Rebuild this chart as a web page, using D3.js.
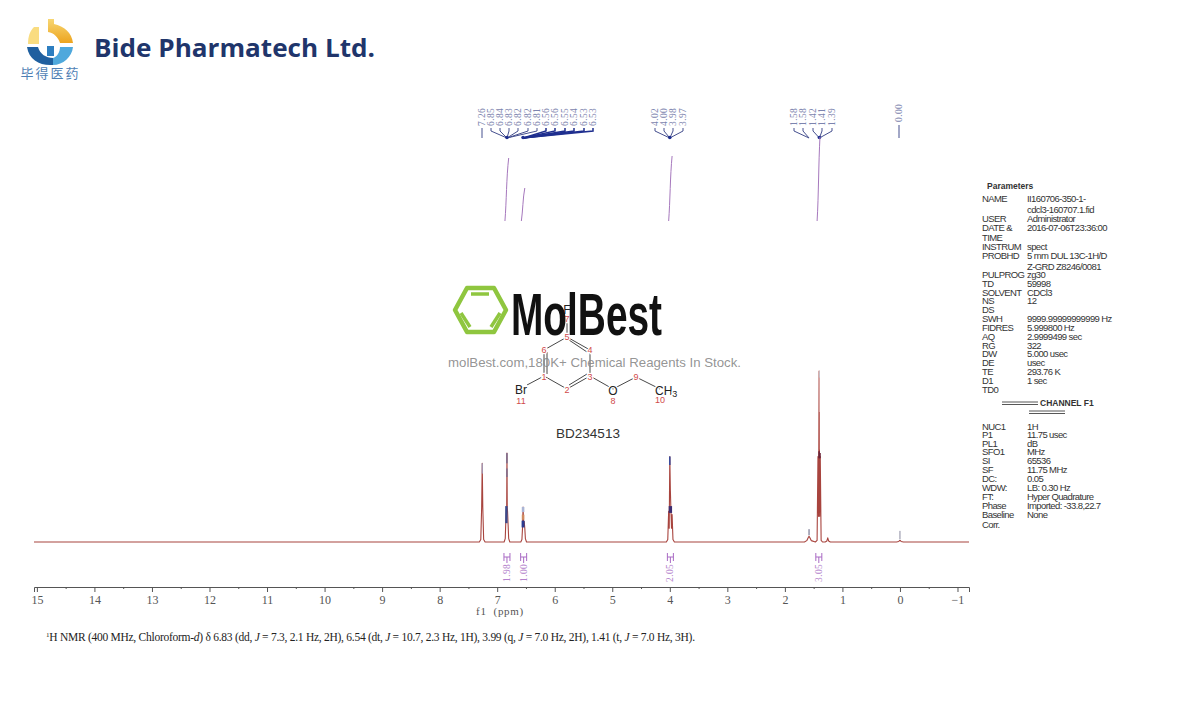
<!DOCTYPE html>
<html>
<head>
<meta charset="utf-8">
<title>BD234513 1H NMR</title>
<script src="https://cdn.jsdelivr.net/npm/d3@7/dist/d3.min.js"></script>
<style>
html, body { margin: 0; padding: 0; background: #fff; }
svg { display: block; }
</style>
</head>
<body>
<div id="chart"></div>
<script>
// trace (ppm, intensity with tallest peak = 100)
var tracePpm = [15.05, 7.31, 7.285, 7.27, 7.26, 7.25, 7.235, 7.21, 6.88, 6.86, 6.85, 6.84, 6.835, 6.83, 6.825, 6.82, 6.81, 6.80, 6.78,
  6.59, 6.57, 6.56, 6.55, 6.54, 6.53, 6.52, 6.51, 6.49, 4.06, 4.035, 4.02, 4.01, 4.00, 3.99, 3.98, 3.97, 3.96, 3.945, 3.92,
  1.66, 1.62, 1.595, 1.58, 1.565, 1.54, 1.47, 1.44, 1.425, 1.415, 1.405, 1.395, 1.385, 1.37, 1.345, 1.30, 1.27, 1.255, 1.24, 1.21,
  0.06, 0.02, 0.005, -0.005, -0.02, -0.06, -1.2];
var traceInt = [0, 0, 1.5, 20, 46, 20, 1.5, 0, 0, 2, 12, 19, 20, 52, 20, 18, 10, 2, 0,
  0, 1.5, 8, 20.5, 10, 12, 8, 2, 0, 0, 1.5, 18, 8, 50, 30, 18, 8, 16, 1.5, 0,
  0, 0.8, 2.5, 3.4, 2.5, 0.8, 0, 1, 50, 15, 100, 15, 50, 1, 0, 0, 0.6, 2.4, 0.6, 0,
  0, 0.3, 0.9, 0.9, 0.3, 0, 0];

// blue/pale marks laid over the peak tops
var markPpm = [7.26, 6.83, 6.83, 6.84, 6.55, 6.55, 6.55, 4.00, 3.99, 1.40, 1.40, 1.40, 1.405, 1.39, 1.58, 0.00];
var markFrom = [40, 46, 38, 11, 17.5, 8.5, 13, 45, 17, 76, 54, 96, 49, 49, 4, 1.5];
var markTo = [46, 52, 43, 21, 20.5, 12.5, 16, 50, 21, 96, 76, 100, 53, 52, 7.5, 6.5];
var markWidth = [1, 1, 1, 2.4, 2.6, 3, 2.6, 1.6, 3.4, 1, 1, 1, 1.6, 1.6, 1, 1];
var markColor = ["#9aa6cc", "#505a90", "#5a6598", "#3a4a8c", "#aab4d4", "#2b3c90", "#d08a60", "#3a4a9a", "#3d2d70", "#dba8a5", "#c06e6a", "#c9c6cf", "#6b2438", "#6b2438", "#5c5c7e", "#8a8aa0"];

// picked peak labels
var topLabels = ["7.26", "6.85", "6.84", "6.83", "6.82", "6.82", "6.81", "6.56", "6.56", "6.55", "6.54", "6.53", "6.53",
  "4.02", "4.00", "3.98", "3.97", "1.58", "1.58", "1.42", "1.41", "1.39", "0.00"];
var topLabelX = [482, 491, 500, 509, 518, 528, 537, 546, 555, 565, 574, 584, 593, 655, 664, 673, 683, 794, 803, 813, 822, 832, 899];
var topLabelTarget = [7.28, 6.83, 6.83, 6.83, 6.83, 6.83, 6.83, 6.55, 6.55, 6.55, 6.55, 6.55, 6.55, 4.00, 4.00, 4.00, 4.00, 1.58, 1.58, 1.40, 1.40, 1.40, 0.01];

// integrals
var integralPpm = [6.83, 6.54, 3.99, 1.41];
var integralText = ["1.98", "1.00", "2.05", "3.05"];
var integralCurveX = [[6.865, 6.80], [6.58, 6.52], [4.02, 3.96], [1.44, 1.39]];
var integralCurveTop = [158, 188, 156, 137];

// axis
var majorTicks = [15, 14, 13, 12, 11, 10, 9, 8, 7, 6, 5, 4, 3, 2, 1, 0, -1];
var minorTicks = [14.5, 13.5, 12.5, 11.5, 10.5, 9.5, 8.5, 7.5, 6.5, 5.5, 4.5, 3.5, 2.5, 1.5, 0.5, -0.5];

// parameter table
var paramNames = ["NAME", "", "USER", "DATE &", "TIME", "INSTRUM", "PROBHD", "", "PULPROG", "TD", "SOLVENT", "NS", "DS", "SWH", "FIDRES", "AQ", "RG", "DW", "DE", "TE", "D1", "TD0"];
var paramValues = ["II160706-350-1-", "cdcl3-160707.1.fid", "Administrator", "2016-07-06T23:36:00", "", "spect", "5 mm DUL 13C-1H/D", "Z-GRD Z8246/0081", "zg30", "59998", "CDCl3", "12", "", "9999.99999999999 Hz", "5.999800 Hz", "2.9999499 sec", "322", "5.000 usec", "usec", "293.76 K", "1 sec", ""];
var paramY = [199, 210, 219, 228, 238, 247, 256, 267, 275, 284, 293, 301, 310, 319, 328, 337, 346, 354, 363, 372, 381, 390];
var channelNames = ["NUC1", "P1", "PL1", "SFO1", "SI", "SF", "DC:", "WDW:", "FT:", "Phase", "Baseline", "Corr."];
var channelValues = ["1H", "11.75 usec", "dB", "MHz", "65536", "11.75 MHz", "0.05", "LB: 0.30 Hz", "Hyper Quadrature", "Imported: -33.8,22.7", "None", ""];
var channelY = [427, 435, 444, 452, 461, 470, 479, 488, 497, 506, 515, 525];

var width = 1190, height = 723;
var svg = d3.select("#chart").append("svg").attr("width", width).attr("height", height);

var x = d3.scaleLinear().domain([15.05, -1.2]).range([34, 969]);
var y = d3.scaleLinear().domain([0, 100]).range([542, 371]);

var serif = "'Liberation Serif', serif";
var sans = "'Liberation Sans', sans-serif";

// ---- company logo ----
var logo = svg.append("g");
var grad = svg.append("defs").append("linearGradient").attr("id", "sun")
  .attr("x1", 0).attr("y1", 0).attr("x2", 0).attr("y2", 1);
grad.append("stop").attr("offset", "0%").attr("stop-color", "#f7d774");
grad.append("stop").attr("offset", "100%").attr("stop-color", "#eda41e");
logo.append("path").attr("fill", "url(#sun)")
  .attr("d", "M48,19 L54,19 L54,24 C64,26 72,33 73,43 L60,43 C58,37 54,33 48,32 Z");
logo.append("path").attr("fill", "#f9dc80")
  .attr("d", "M34,27 L39,27 L39,44 L28,44 C28,36 30,31 34,27 Z");
logo.append("path").attr("fill", "#1f5f9f")
  .attr("d", "M27,47 L38,47 C40,54 46,58 53,58 L53,65 C40,66 29,60 27,47 Z");
logo.append("path").attr("fill", "#4fa8dc")
  .attr("d", "M60,47 L73,47 C72,57 63,65 53,65 L53,58 C57,57 60,52 60,47 Z");
logo.append("rect").attr("x", 47).attr("y", 46).attr("width", 7).attr("height", 10).attr("fill", "#2d7ec0");
logo.append("text").attr("x", 49.5).attr("y", 78).attr("text-anchor", "middle")
  .attr("font-family", "'Noto Sans CJK SC'").attr("font-size", 13).attr("fill", "#4f7fb5")
  .attr("textLength", 58).attr("lengthAdjust", "spacing").text("毕得医药");
svg.append("text").attr("x", 94).attr("y", 57)
  .attr("font-family", "'Open Sans', sans-serif").attr("font-weight", 700).attr("font-size", 25)
  .attr("fill", "#20356b").attr("textLength", 281).attr("lengthAdjust", "spacingAndGlyphs")
  .text("Bide Pharmatech Ltd.");

// ---- structure ----
var mol = svg.append("g");
var atomX = [544, 567, 590, 590, 567, 544, 567, 613, 636, 660, 527];
var atomY = [376, 389, 376, 350, 337, 350, 315, 389, 377, 389, 385];
var bonds = [[0,1],[1,2],[2,3],[3,4],[4,5],[5,0],[4,6],[2,7],[7,8],[8,9],[0,10]];
mol.selectAll("line.bond").data(bonds).enter().append("line").attr("class", "bond")
  .attr("x1", function(d) { return atomX[d[0]]; }).attr("y1", function(d) { return atomY[d[0]]; })
  .attr("x2", function(d) { return atomX[d[1]]; }).attr("y2", function(d) { return atomY[d[1]]; })
  .attr("stroke", "#333").attr("stroke-width", 0.9);
// inner lines of the double bonds
var doubles = [[569, 385, 587, 374], [569, 340, 587, 352], [547, 352, 547, 374]];
mol.selectAll("line.dbl").data(doubles).enter().append("line").attr("class", "dbl")
  .attr("x1", function(d) { return d[0]; }).attr("y1", function(d) { return d[1]; })
  .attr("x2", function(d) { return d[2]; }).attr("y2", function(d) { return d[3]; })
  .attr("stroke", "#333").attr("stroke-width", 0.9);
var atomNo = ["1", "2", "3", "4", "5", "6", "7", "8", "9", "10", "11"];
var atomNoX = [544, 567, 590, 590, 567, 544, 567, 613, 636, 660, 521];
var atomNoY = [380, 393, 380, 353, 340, 353, 322, 404, 380, 403, 404];
// halo so the numbers and element symbols break the bonds
function halo(sel) {
  return sel.attr("stroke", "#fff").attr("stroke-width", 2.5).attr("paint-order", "stroke");
}
halo(mol.selectAll("text.no").data(atomNo).enter().append("text").attr("class", "no")
  .attr("x", function(d, i) { return atomNoX[i]; }).attr("y", function(d, i) { return atomNoY[i]; })
  .attr("text-anchor", "middle").attr("font-family", sans).attr("font-size", 9).attr("fill", "#d04a4a")
  .text(function(d) { return d; }));
halo(mol.append("text").attr("x", 521).attr("y", 394).attr("text-anchor", "middle").attr("font-family", sans)
  .attr("font-size", 12).attr("fill", "#222").text("Br"));
halo(mol.append("text").attr("x", 613).attr("y", 395).attr("text-anchor", "middle").attr("font-family", sans)
  .attr("font-size", 12).attr("fill", "#222").text("O"));
var ch3 = halo(mol.append("text").attr("x", 655).attr("y", 395).attr("font-family", sans)
  .attr("font-size", 12).attr("fill", "#222"));
ch3.append("tspan").text("CH");
ch3.append("tspan").attr("dy", 2).attr("font-size", 9).text("3");
mol.append("text").attr("x", 567).attr("y", 314).attr("text-anchor", "middle").attr("font-family", sans)
  .attr("font-size", 12).attr("fill", "#222").text("F");
svg.append("text").attr("x", 588).attr("y", 438).attr("text-anchor", "middle").attr("font-family", sans)
  .attr("font-size", 13.5).attr("fill", "#333").text("BD234513");

// ---- watermark ----
var mark = svg.append("g");
var hex = d3.line()([[455, 310], [467, 288], [494, 288], [506, 310], [494, 332], [467, 332]]) + "Z";
mark.append("path").attr("d", hex).attr("fill", "none").attr("stroke", "#8fc63f").attr("stroke-width", 4.5).attr("stroke-linejoin", "round");
var hexInner = [[471, 294, 489, 294], [461, 313, 470, 327], [500, 313, 491, 327]];
mark.selectAll("line").data(hexInner).enter().append("line")
  .attr("x1", function(d) { return d[0]; }).attr("y1", function(d) { return d[1]; })
  .attr("x2", function(d) { return d[2]; }).attr("y2", function(d) { return d[3]; })
  .attr("stroke", "#8fc63f").attr("stroke-width", 3.5);
mark.append("text").attr("x", 511).attr("y", 335)
  .attr("font-family", "'Liberation Sans Narrow', 'Liberation Sans', sans-serif").attr("font-size", 60).attr("font-weight", 700)
  .attr("fill", "#111").attr("textLength", 151).attr("lengthAdjust", "spacingAndGlyphs").text("MolBest");
mark.append("text").attr("x", 448).attr("y", 367)
  .attr("font-family", sans).attr("font-size", 13).attr("fill", "#888").attr("fill-opacity", 0.9)
  .attr("textLength", 293).attr("lengthAdjust", "spacingAndGlyphs")
  .text("molBest.com,180K+ Chemical Reagents In Stock.");

// ---- spectrum ----
var traceLine = d3.line().x(function(d) { return x(d); }).y(function(d, i) { return y(traceInt[i]); });
svg.append("path").attr("d", traceLine(tracePpm)).attr("fill", "none")
  .attr("stroke", "#a8443e").attr("stroke-width", 1.1).attr("stroke-linejoin", "round");
svg.selectAll("line.mark").data(markPpm).enter().append("line").attr("class", "mark")
  .attr("x1", function(d) { return x(d); }).attr("x2", function(d) { return x(d); })
  .attr("y1", function(d, i) { return y(markFrom[i]); }).attr("y2", function(d, i) { return y(markTo[i]); })
  .attr("stroke", function(d, i) { return markColor[i]; })
  .attr("stroke-width", function(d, i) { return markWidth[i]; });

// ---- picked peak labels and connectors ----
var blue = "#46508f";
var pick = svg.append("g");
pick.selectAll("text").data(topLabels).enter().append("text")
  .attr("transform", function(d, i) { return "translate(" + (topLabelX[i] + 3) + "," + (d == "0.00" ? 122 : 126) + ") rotate(-90)"; })
  .attr("font-family", serif).attr("font-size", 9.5).attr("letter-spacing", 0.4).attr("fill", "#7c84ae")
  .text(function(d) { return d; });
pick.selectAll("path").data(topLabels).enter().append("path")
  .attr("fill", "none").attr("stroke", function(d, i) { return (i > 6 && i < 13) ? "#1f2f8f" : blue; })
  .attr("stroke-width", function(d, i) { return (i > 6 && i < 13) ? 1.5 : 1; })
  .attr("d", function(d, i) {
    var tx = x(topLabelTarget[i]), lx = topLabelX[i];
    if (d == "7.26") return "M" + lx + ",128L" + lx + ",138";
    if (d == "0.00") return "M" + lx + ",125L" + lx + ",138";
    return "M" + lx + ",128L" + lx + ",131L" + tx + ",138";
  });
pick.selectAll("circle").data([6.83, 6.55, 4.00, 1.40]).enter().append("circle")
  .attr("cx", function(d) { return x(d); }).attr("cy", 137.5).attr("r", 1.8).attr("fill", "#1f2f8f");

// ---- integrals ----
var purple = "#a96ac4";
var integ = svg.append("g");
integ.selectAll("path.curve").data(integralCurveX).enter().append("path").attr("class", "curve")
  .attr("fill", "none").attr("stroke", "#a678bd").attr("stroke-width", 1)
  .attr("d", function(d, i) {
    var x0 = x(d[0]), x1 = x(d[1]), top = integralCurveTop[i];
    return "M" + x0 + ",221C" + (x0 + 1.5) + "," + (221 - (221 - top) * 0.3) + " " + (x0 + 1.5) + "," + (221 - (221 - top) * 0.7) + " " + x1 + "," + top;
  });
integ.selectAll("path.bracket").data(integralPpm).enter().append("path").attr("class", "bracket")
  .attr("fill", "none").attr("stroke", purple).attr("stroke-width", 1)
  .attr("d", function(d) {
    var c = x(d);
    return "M" + (c - 3) + ",553V561M" + (c + 3) + ",553V561M" + (c - 3) + ",557H" + (c + 3) + "M" + c + ",557V563";
  });
integ.selectAll("text").data(integralPpm).enter().append("text")
  .attr("transform", function(d) { return "translate(" + (x(d) + 3) + ",582) rotate(-90)"; })
  .attr("font-family", serif).attr("font-size", 9.5).attr("letter-spacing", 0.4).attr("fill", "#b483cc")
  .text(function(d, i) { return integralText[i]; });

// ---- x axis ----
var axisMajor = d3.axisBottom(x).tickValues(majorTicks).tickSize(5).tickPadding(3)
  .tickFormat(function(d) { return d < 0 ? "\u2212" + (-d) : d; });
var gx = svg.append("g").attr("transform", "translate(0,587)").call(axisMajor);
gx.selectAll("text").attr("font-family", serif).attr("font-size", 12).attr("fill", "#555");
gx.selectAll("line").attr("stroke", "#555");
gx.select(".domain").attr("stroke", "#555");
var axisMinor = d3.axisBottom(x).tickValues(minorTicks).tickSize(2).tickFormat("");
var gm = svg.append("g").attr("transform", "translate(0,587)").call(axisMinor);
gm.select(".domain").remove();
gm.selectAll("line").attr("stroke", "#555");
svg.append("text").attr("x", 500).attr("y", 615).attr("text-anchor", "middle")
  .attr("font-family", serif).attr("font-size", 11).attr("letter-spacing", 0.7).attr("fill", "#555")
  .attr("xml:space", "preserve").text("f1  (ppm)");

// ---- assignment line ----
var foot = svg.append("text").attr("x", 46).attr("y", 641).attr("font-family", serif)
  .attr("font-size", 11.5).attr("fill", "#222").attr("textLength", 649).attr("lengthAdjust", "spacing");
foot.append("tspan").attr("font-size", 7).attr("dy", -4).text("1");
foot.append("tspan").attr("dy", 4).text("H NMR (400 MHz, Chloroform-");
foot.append("tspan").attr("font-style", "italic").text("d");
foot.append("tspan").text(") \u03b4 6.83 (dd, ");
foot.append("tspan").attr("font-style", "italic").text("J");
foot.append("tspan").text(" = 7.3, 2.1 Hz, 2H), 6.54 (dt, ");
foot.append("tspan").attr("font-style", "italic").text("J");
foot.append("tspan").text(" = 10.7, 2.3 Hz, 1H), 3.99 (q, ");
foot.append("tspan").attr("font-style", "italic").text("J");
foot.append("tspan").text(" = 7.0 Hz, 2H), 1.41 (t, ");
foot.append("tspan").attr("font-style", "italic").text("J");
foot.append("tspan").text(" = 7.0 Hz, 3H).");

// ---- parameters ----
function table(names, values, ys, valueX) {
  var g = svg.append("g").attr("font-family", sans).attr("font-size", 9.5).attr("fill", "#333").attr("letter-spacing", -0.6);
  g.selectAll("text.n").data(names).enter().append("text").attr("class", "n")
    .attr("x", 982).attr("y", function(d, i) { return ys[i] + 3; }).text(function(d) { return d; });
  g.selectAll("text.v").data(values).enter().append("text").attr("class", "v")
    .attr("x", valueX).attr("y", function(d, i) { return ys[i] + 3; }).text(function(d) { return d; });
}
table(paramNames, paramValues, paramY, 1027);
table(channelNames, channelValues, channelY, 1027);
svg.append("text").attr("x", 987).attr("y", 189).attr("font-family", sans).attr("font-weight", 700)
  .attr("font-size", 8.5).attr("fill", "#333").text("Parameters");
svg.append("text").attr("x", 1040).attr("y", 406).attr("font-family", sans).attr("font-weight", 700)
  .attr("font-size", 8.5).attr("fill", "#333").text("CHANNEL F1");
var rules = [[1002, 1038, 402], [1002, 1038, 404.5], [1029, 1065, 411], [1029, 1065, 413.5]];
svg.selectAll("line.rule").data(rules).enter().append("line").attr("class", "rule")
  .attr("x1", function(d) { return d[0]; }).attr("x2", function(d) { return d[1]; })
  .attr("y1", function(d) { return d[2]; }).attr("y2", function(d) { return d[2]; })
  .attr("stroke", "#444").attr("stroke-width", 0.9);
</script>
</body>
</html>
